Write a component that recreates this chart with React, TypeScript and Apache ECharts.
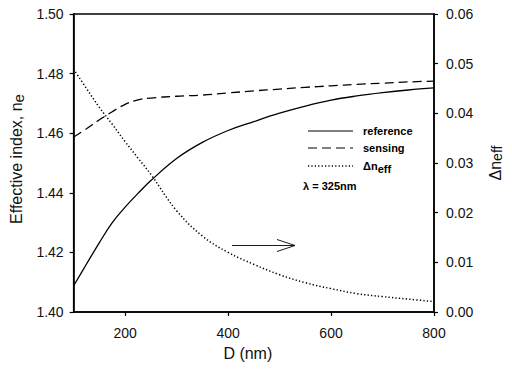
import React, { useEffect, useRef } from "react";
import * as echarts from "echarts";

const dValues = [100, 125, 150, 175, 200, 225, 250, 300, 350, 400, 450, 500, 550, 600, 650, 700, 750, 800];
const referenceIdx = [1.4088, 1.4161, 1.4233, 1.43, 1.4352, 1.4398, 1.4441, 1.4515, 1.4569, 1.4609, 1.4639, 1.4667, 1.4691, 1.4711, 1.4725, 1.4736, 1.4745, 1.4752];
const sensingIdx = [1.4587, 1.4615, 1.4645, 1.4672, 1.4697, 1.4712, 1.4718, 1.4724, 1.4728, 1.4735, 1.4742, 1.4748, 1.4754, 1.4759, 1.4764, 1.4768, 1.4772, 1.4775];
const deltaNeff = [0.0489, 0.045, 0.0412, 0.0378, 0.0343, 0.031, 0.0277, 0.0204, 0.0153, 0.012, 0.0096, 0.0075, 0.0059, 0.0047, 0.0037, 0.0031, 0.0026, 0.0021];
const xTicks = [200, 400, 600, 800];

const FONT = "Arial, 'Liberation Sans', sans-serif";

export default function App() {
  const ref = useRef<HTMLDivElement>(null);
  useEffect(() => {
    if (!ref.current) return;
    const chart = echarts.init(ref.current, undefined, { renderer: "svg" });
    const pair = (ys: number[]) => dValues.map((d, i) => [d, ys[i]]);
    const axisCommon = {
      axisLine: { show: true, lineStyle: { color: "#000", width: 1.5 } },
      axisTick: { show: true, inside: false, length: 4, lineStyle: { color: "#000", width: 1.2 } },
      splitLine: { show: false },
    };
    chart.setOption({
      animation: false,
      backgroundColor: "#fff",
      grid: {
        left: 70.5,
        right: 73.5,
        top: 14,
        bottom: 60,
        show: true,
        borderColor: "#000",
        borderWidth: 1.5,
      },
      xAxis: {
        type: "value",
        min: 100,
        max: 800,
        ...axisCommon,
        axisTick: { ...axisCommon.axisTick, customValues: xTicks },
        axisLabel: {
          customValues: xTicks,
          color: "#111",
          fontSize: 14,
          fontFamily: FONT,
          margin: 14,
        },
        name: "D (nm)",
        nameLocation: "middle",
        nameGap: 33,
        nameTextStyle: { fontSize: 16, fontFamily: FONT, color: "#111", padding: [0, 12, 0, 0] },
      },
      yAxis: [
        {
          type: "value",
          min: 1.4,
          max: 1.5,
          interval: 0.02,
          position: "left",
          ...axisCommon,
          axisLabel: {
            color: "#111",
            fontSize: 14,
            fontFamily: FONT,
            margin: 10,
            formatter: (v: number) => v.toFixed(2),
          },
          name: "{a|Effective index, n}{b|e}",
          nameLocation: "middle",
          nameRotate: 90,
          nameGap: 42,
          nameTextStyle: {
            rich: {
              a: { fontSize: 16, fontFamily: FONT, color: "#111" },
              b: { fontSize: 15, fontFamily: FONT, color: "#111", padding: [4, 0, 0, 0] },
            },
            padding: [0, 0, 0, 8],
          },
        },
        {
          type: "value",
          min: 0,
          max: 0.06,
          interval: 0.01,
          position: "right",
          ...axisCommon,
          axisLabel: {
            color: "#111",
            fontSize: 14,
            fontFamily: FONT,
            margin: 12,
            formatter: (v: number) => v.toFixed(2),
          },
          name: "{a|Δn}{b|eff}",
          nameLocation: "middle",
          nameRotate: 90,
          nameGap: 52,
          nameTextStyle: {
            rich: {
              a: { fontSize: 16, fontFamily: FONT, color: "#111" },
              b: { fontSize: 14, fontFamily: FONT, color: "#111", padding: [4, 0, 0, 0] },
            },
          },
        },
      ],
      series: [
        {
          name: "reference",
          type: "line",
          yAxisIndex: 0,
          data: pair(referenceIdx),
          smooth: 0.4,
          showSymbol: false,
          lineStyle: { color: "#000", width: 1.3, type: "solid" },
        },
        {
          name: "sensing",
          type: "line",
          yAxisIndex: 0,
          data: pair(sensingIdx),
          smooth: 0.4,
          showSymbol: false,
          lineStyle: { color: "#000", width: 1.3, type: [9, 5] },
        },
        {
          name: "Δneff",
          type: "line",
          yAxisIndex: 1,
          data: pair(deltaNeff),
          smooth: 0.4,
          showSymbol: false,
          lineStyle: { color: "#000", width: 1.5, type: [1.3, 2.2] },
        },
      ],
      graphic: [
        { type: "line", shape: { x1: 308, y1: 131, x2: 353, y2: 131 }, style: { stroke: "#000", lineWidth: 1.2 } },
        { type: "line", shape: { x1: 308, y1: 148, x2: 353, y2: 148 }, style: { stroke: "#000", lineWidth: 1.2, lineDash: [9, 5] } },
        { type: "line", shape: { x1: 308, y1: 166, x2: 353, y2: 166 }, style: { stroke: "#000", lineWidth: 1.3, lineDash: [1.2, 2.2] } },
        { type: "text", x: 363, y: 131, style: { text: "reference", font: `bold 11px ${FONT}`, fill: "#000", verticalAlign: "middle" } },
        { type: "text", x: 363, y: 148, style: { text: "sensing", font: `bold 11px ${FONT}`, fill: "#000", verticalAlign: "middle" } },
        {
          type: "text",
          x: 363,
          y: 166,
          style: {
            text: "{a|Δn}{b|eff}",
            verticalAlign: "middle",
            rich: {
              a: { font: `bold 11px ${FONT}`, fill: "#000" },
              b: { font: `bold 11px ${FONT}`, fill: "#000", padding: [5, 0, 0, 0] },
            },
          },
        },
        { type: "text", x: 303, y: 186, style: { text: "λ = 325nm", font: `bold 11px ${FONT}`, fill: "#000", verticalAlign: "middle" } },
        { type: "line", shape: { x1: 232, y1: 245.5, x2: 295, y2: 245.5 }, style: { stroke: "#000", lineWidth: 0.9 } },
        { type: "polyline", shape: { points: [[277, 239.5], [295, 245.5], [277, 251.5]] }, style: { stroke: "#000", lineWidth: 0.9, fill: "none" } },
      ],
    });
    return () => chart.dispose();
  }, []);
  return <div ref={ref} style={{ position: "fixed", left: 0, top: 0, width: 512, height: 372 }} />;
}
